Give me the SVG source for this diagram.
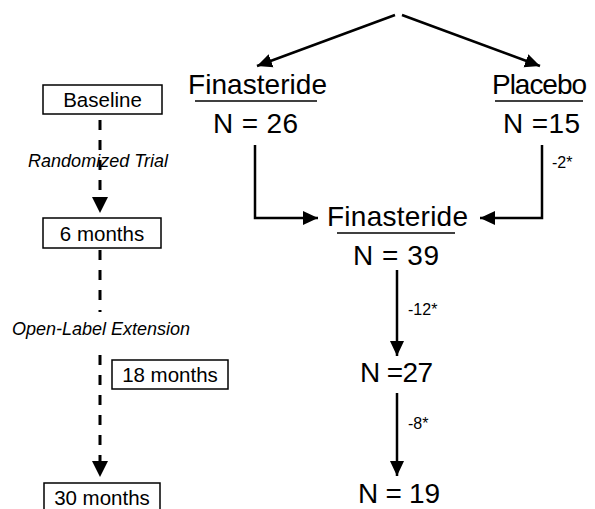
<svg xmlns="http://www.w3.org/2000/svg" width="595" height="509" viewBox="0 0 595 509">
<style>
.big{font-family:"Liberation Sans",Arial,sans-serif;font-size:28px;fill:#000}
.mid{font-family:"Liberation Sans",Arial,sans-serif;font-size:20.5px;fill:#000}
.ital{font-family:"Liberation Sans",Arial,sans-serif;font-size:18px;font-style:italic;fill:#000}
.small{font-family:"Liberation Sans",Arial,sans-serif;font-size:16px;fill:#000}
.box{fill:#fff;stroke:#000;stroke-width:1.5}
.ln{fill:none;stroke:#000;stroke-width:2.5}
.dash{fill:none;stroke:#000;stroke-width:3;stroke-dasharray:10 10}
.ul{stroke:#000;stroke-width:1.5}
</style>
<defs>
<marker id="ah" markerUnits="userSpaceOnUse" markerWidth="16" markerHeight="16" viewBox="0 0 16 16" refX="15" refY="8" orient="auto">
<path d="M0,1 L15,8 L0,15 Z" fill="#000"/>
</marker>
</defs>
<rect width="595" height="509" fill="#fff"/>

<g id="connectors">
<line class="ln" x1="395" y1="15" x2="257" y2="66" marker-end="url(#ah)"/>
<line class="ln" x1="402" y1="15" x2="540" y2="66" marker-end="url(#ah)"/>
<polyline class="ln" points="255,145 255,218 318,218" marker-end="url(#ah)"/>
<polyline class="ln" points="542,145 542,218 480,218" marker-end="url(#ah)"/>
<line class="ln" x1="397" y1="270" x2="397" y2="356" marker-end="url(#ah)"/>
<line class="ln" x1="397" y1="393" x2="397" y2="476" marker-end="url(#ah)"/>
<line class="dash" x1="100" y1="120" x2="100" y2="198"/>
<path d="M92,197 L108,197 L100,213 Z" fill="#000"/>
<line class="dash" x1="100" y1="250" x2="100" y2="312"/>
<line class="dash" x1="100" y1="355" x2="100" y2="462"/>
<path d="M92,461 L108,461 L100,477 Z" fill="#000"/>
</g>

<g id="finasteride-rand">
<text class="big" x="188" y="94" textLength="139">Finasteride</text>
<line class="ul" x1="195" y1="101" x2="317" y2="101"/>
<text class="big" x="213" y="133" textLength="85">N = 26</text>
</g>
<g id="placebo">
<text class="big" x="492" y="94" textLength="95">Placebo</text>
<line class="ul" x1="495" y1="101" x2="583" y2="101"/>
<text class="big" x="503" y="133" textLength="77">N =15</text>
</g>
<g id="finasteride-open">
<text class="big" x="327" y="226" textLength="141">Finasteride</text>
<line class="ul" x1="337" y1="233" x2="455" y2="233"/>
<text class="big" x="353" y="265" textLength="86">N = 39</text>
</g>
<g id="n27">
<text class="big" x="360" y="382" textLength="73">N =27</text>
</g>
<g id="n19">
<text class="big" x="358" y="503" textLength="82">N = 19</text>
</g>

<g id="labels">
<text class="small" x="552" y="168">-2*</text>
<text class="small" x="408" y="315">-12*</text>
<text class="small" x="408" y="429">-8*</text>
<text class="ital" x="28" y="167" textLength="140">Randomized Trial</text>
<text class="ital" x="12" y="335" textLength="178">Open-Label Extension</text>
</g>

<g id="baseline">
<rect class="box" x="43" y="85" width="119" height="29"/>
<text class="mid" x="102.5" y="107" text-anchor="middle">Baseline</text>
</g>
<g id="m6">
<rect class="box" x="43" y="218" width="118" height="30"/>
<text class="mid" x="102" y="241" text-anchor="middle">6 months</text>
</g>
<g id="m18">
<rect class="box" x="112" y="360" width="116" height="29"/>
<text class="mid" x="170" y="382" text-anchor="middle">18 months</text>
</g>
<g id="m30">
<rect class="box" x="44" y="483" width="116" height="30"/>
<text class="mid" x="102" y="505" text-anchor="middle">30 months</text>
</g>
</svg>
